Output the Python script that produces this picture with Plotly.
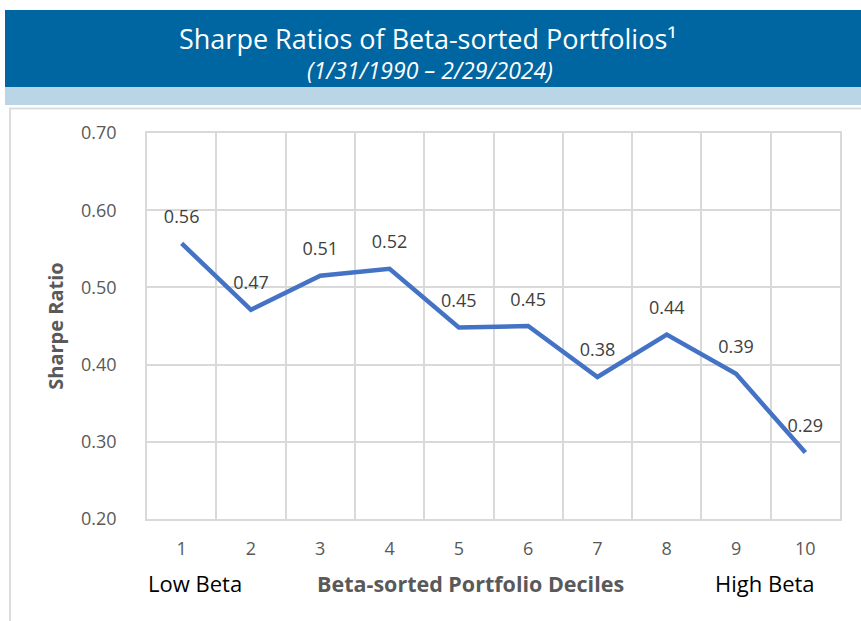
import plotly.graph_objects as go

deciles = [1, 2, 3, 4, 5, 6, 7, 8, 9, 10]
sharpe = [0.557, 0.471, 0.515, 0.524, 0.448, 0.450, 0.384, 0.439, 0.388, 0.286]
labels = ["0.56", "0.47", "0.51", "0.52", "0.45", "0.45", "0.38", "0.44", "0.39", "0.29"]
y_ticks = [0.20, 0.30, 0.40, 0.50, 0.60, 0.70]

W, H = 861, 621
FONT = "Open Sans"
GRID = "#D9D9D9"

def px(x):
    return x / W

def py(y):
    return (H - y) / H

fig = go.Figure()
fig.add_trace(go.Scatter(
    x=deciles, y=sharpe, mode="lines+markers+text",
    line=dict(color="#4472C4", width=4.5),
    marker=dict(size=24, color="rgba(0,0,0,0)"),
    text=labels, textposition="top center",
    textfont=dict(family=FONT, size=18, color="#404040"),
    cliponaxis=False, hoverinfo="skip", showlegend=False,
))

fig.update_layout(
    width=W, height=H,
    margin=dict(l=0, r=0, t=0, b=0, autoexpand=False),
    paper_bgcolor="white", plot_bgcolor="white",
    font=dict(family=FONT),
    xaxis=dict(
        domain=[px(147), px(840)],
        range=[0.5, 10.5],
        tickmode="array", tickvals=deciles,
        ticktext=[str(d) for d in deciles],
        showgrid=False, zeroline=False, automargin=False,
        tickfont=dict(family=FONT, size=18, color="#595959"),
        ticks="outside", ticklen=13, tickcolor="rgba(0,0,0,0)",
        minor=dict(tickmode="array", tickvals=[i + 0.5 for i in range(0, 11)],
                   showgrid=True, gridcolor=GRID, gridwidth=1.5, ticks=""),
        showline=True, linecolor=GRID, linewidth=1.5, mirror=True,
        fixedrange=True,
    ),
    yaxis=dict(
        domain=[py(519), py(133)],
        range=[0.20, 0.70],
        tickmode="array", tickvals=y_ticks,
        ticktext=[f"{v:.2f}" for v in y_ticks],
        showgrid=True, gridcolor=GRID, gridwidth=1.5, zeroline=False,
        automargin=False,
        tickfont=dict(family=FONT, size=18, color="#595959"),
        ticks="outside", ticklen=25, tickcolor="rgba(0,0,0,0)",
        showline=True, linecolor=GRID, linewidth=1.5, mirror=True,
        title=dict(text="<b>Sharpe Ratio</b>", standoff=12,
                   font=dict(family=FONT, size=20, color="#595959")),
        fixedrange=True,
    ),
    shapes=[
        dict(type="rect", xref="paper", yref="paper",
             x0=px(5), x1=1.0, y0=py(87), y1=py(10),
             fillcolor="#0066A1", line=dict(width=0), layer="below"),
        dict(type="rect", xref="paper", yref="paper",
             x0=px(5), x1=1.0, y0=py(105), y1=py(87),
             fillcolor="#BAD5E6", line=dict(width=0), layer="below"),
        dict(type="rect", xref="paper", yref="paper",
             x0=px(10), x1=1.01, y0=-0.01, y1=py(108.5),
             fillcolor="rgba(0,0,0,0)", line=dict(color="#DDDDDD", width=2),
             layer="below"),
    ],
    annotations=[
        dict(text="Sharpe Ratios of Beta-sorted Portfolios¹", xref="paper", yref="paper",
             x=px(428), y=py(39), showarrow=False, xanchor="center", yanchor="middle",
             font=dict(family=FONT, size=27, color="white")),
        dict(text="<i>(1/31/1990 – 2/29/2024)</i>", xref="paper", yref="paper",
             x=px(430), y=py(70), showarrow=False, xanchor="center", yanchor="middle",
             font=dict(family=FONT, size=23, color="white")),
        dict(text="Low Beta", xref="paper", yref="paper",
             x=px(195), y=py(583), showarrow=False, xanchor="center", yanchor="middle",
             font=dict(family=FONT, size=22, color="#000000")),
        dict(text="High Beta", xref="paper", yref="paper",
             x=px(765), y=py(583), showarrow=False, xanchor="center", yanchor="middle",
             font=dict(family=FONT, size=22, color="#000000")),
        dict(text="<b>Beta-sorted Portfolio Deciles</b>", xref="paper", yref="paper",
             x=px(471), y=py(583), showarrow=False, xanchor="center", yanchor="middle",
             font=dict(family=FONT, size=21.5, color="#595959")),
    ],
)

fig.write_html("out.html", config={"displayModeBar": False},
               post_script="document.body.style.margin='0px';")
